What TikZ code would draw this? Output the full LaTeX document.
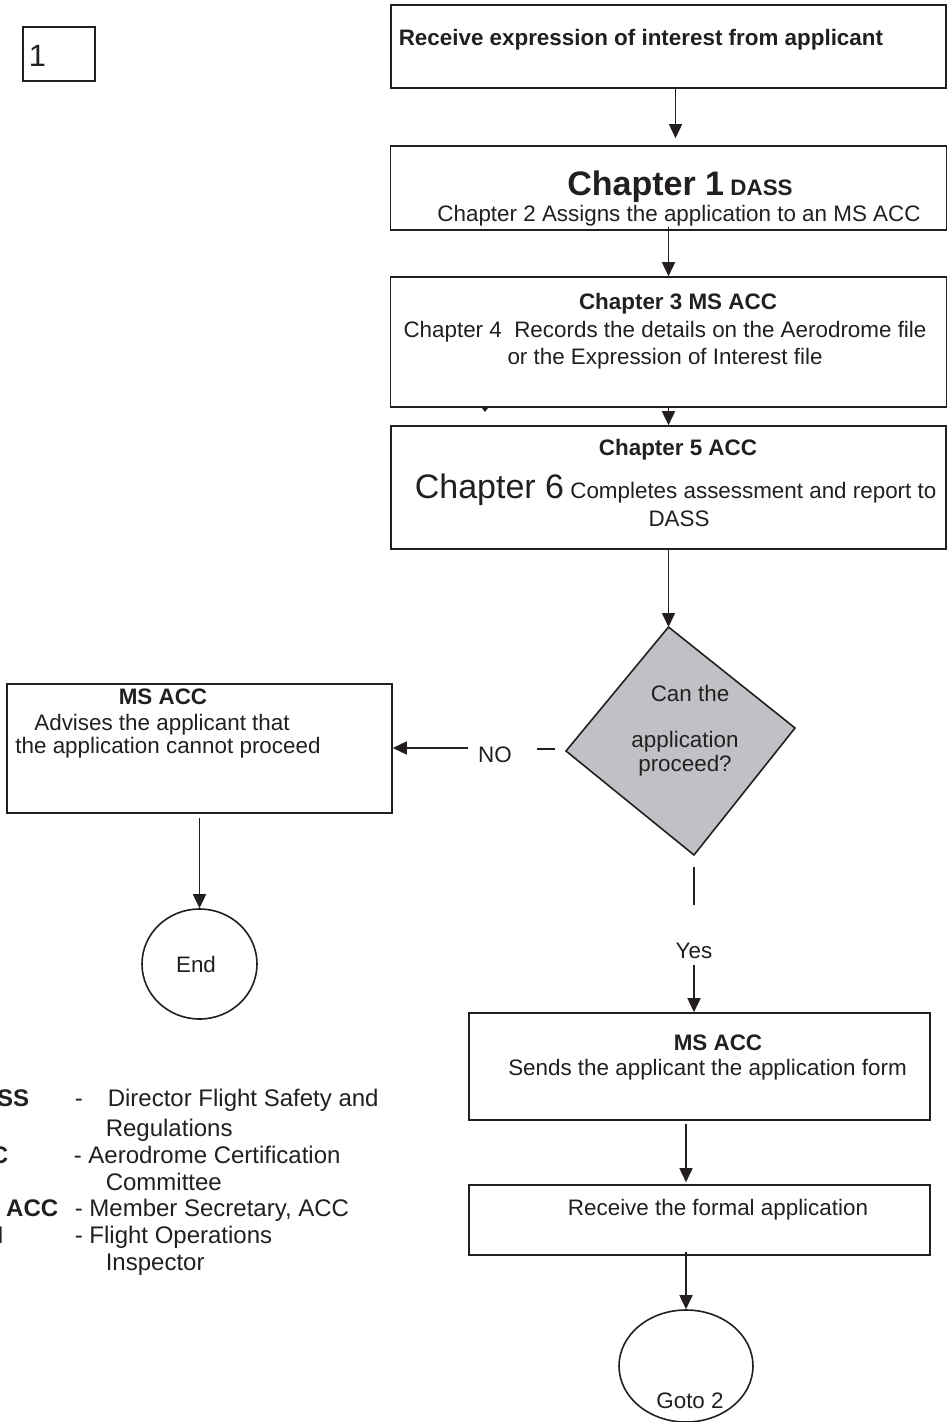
\documentclass[tikz,border=0pt]{standalone}
\usepackage{fontspec}
\setmainfont{Liberation Sans}
\usetikzlibrary{arrows.meta,calc,shapes.geometric}
\definecolor{ink}{RGB}{35,31,32}
\definecolor{diagray}{RGB}{192,193,197}

\begin{document}
\begin{tikzpicture}[x=0.5pt,y=-0.5pt,ink,line width=0.8pt,
  box/.style={draw,rectangle,inner sep=0pt},
  txt/.style={inner sep=0pt,anchor=base,font=\fontsize{11.2}{13.5}\selectfont},
  btxt/.style={txt,font=\fontsize{11.2}{13.5}\selectfont\bfseries},
  leg/.style={inner sep=0pt,anchor=base west,font=\fontsize{12}{14}\selectfont},
  arr/.style={-{Triangle[length=7pt,width=6.5pt]}}]
\useasboundingbox (0,0) rectangle (948,1422);
\clip (0,0) rectangle (948,1422);
\fill[white] (0,0) rectangle (948,1422);

\node[box,minimum width=36pt,minimum height=27pt] (one) at (59,54) {};
\node[txt,anchor=base west,font=\fontsize{15.4}{18}\selectfont] (onetxt) at (28,67) {1};

\node[box,minimum width=277.5pt,minimum height=41.5pt] (recv) at (668.5,46.5) {};
\node[btxt,anchor=base west] (recvtxt) at (398,46) {Receive expression of interest from applicant};

\node[box,minimum width=278pt,minimum height=42pt] (dass) at (668.5,188) {};
\node[txt] (ch1) at (680,196) {{\fontsize{17}{20}\selectfont\bfseries Chapter 1} {\bfseries DASS}};
\node[txt] (ch2) at (679,222) {Chapter 2 Assigns the application to an MS ACC};

\node[box,minimum width=278pt,minimum height=65pt] (record) at (668.5,342) {};
\node[btxt] (ch3) at (678,310) {Chapter 3 MS ACC};
\node[txt] (ch4) at (665,338) {Chapter 4\ \ Records the details on the Aerodrome file};
\node[txt] (ch4b) at (665,365) {or the Expression of Interest file};
\fill (482,408) -- (488,408) -- (485,412) -- cycle;

\node[box,minimum width=277.5pt,minimum height=61.5pt] (assess) at (668.5,487.5) {};
\node[btxt] (ch5) at (678,455) {Chapter 5 ACC};
\node[txt,anchor=base west] (ch6) at (414,498) {{\fontsize{17}{20}\selectfont Chapter 6} Completes assessment and report to};
\node[txt] (ch6b) at (679,526) {DASS};

\coordinate (dtop) at (668.5,627);
\coordinate (dright) at (795,728);
\coordinate (dbot) at (694,855);
\coordinate (dleft) at (566,751);
\filldraw[fill=diagray] (dtop) -- (dright) -- (dbot) -- (dleft) -- cycle;
\node[txt] (can) at (690,701) {Can the};
\node[txt] (app) at (685,747) {application};
\node[txt] (proc) at (685,771) {proceed?};

\node[box,minimum width=192.5pt,minimum height=64.5pt] (advise) at (199.5,748.5) {};
\node[btxt] (adv1) at (163,704) {MS ACC};
\node[txt] (adv2) at (162,730) {Advises the applicant that};
\node[txt] (adv3) at (168,753) {the application cannot proceed};
\node[draw,ellipse,inner sep=0pt,minimum width=57.5pt,minimum height=55pt] (endc) at (199.5,964) {};
\node[txt] (endtxt) at (196,972) {End};

\node[txt] (no) at (495,762) {NO};
\coordinate (nol) at (468,748);
\draw ($(dleft)+(-11,-2)$) -- ($(dleft)+(-29,-2)$);
\draw[arr] (nol) -- (nol -| advise.east);

\node[txt] (yes) at (694,958) {Yes};
\draw ($(dbot)+(0,12)$) -- ($(dbot)+(0,50)$);

\node[box,minimum width=230.5pt,minimum height=53.5pt] (sends) at (699.5,1066.5) {};
\node[btxt] (sends1) at (718,1050) {MS ACC};
\node[txt] (sends2) at (707.5,1075) {Sends the applicant the application form};
\node[box,minimum width=230.5pt,minimum height=35pt] (formal) at (699.5,1220) {};
\node[txt] (formaltxt) at (718,1215) {Receive the formal application};
\node[draw,ellipse,inner sep=0pt,minimum width=67pt,minimum height=56pt] (goto) at (686,1366) {};
\node[txt] (gototxt) at (690,1408) {Goto 2};

\draw[arr] ($(recv.south)+(7,0)$) -- ($(dass.north)+(7,-7)$);
\draw[arr] ($(dass.south)+(0,-4)$) -- (record.north);
\draw[arr] (record.south) -- (assess.north);
\draw[arr] (assess.south) -- (dtop);
\draw[arr] ($(advise.south)+(0,4)$) -- (endc.north);
\draw[arr] ($(yes)+(0,15)$) -- (yes |- sends.north);
\draw[arr] ($(sends.south)+(-13.5,3)$) -- ($(formal.north)+(-13.5,-2)$);
\draw[arr] ($(formal.south)+(-13.5,-4)$) -- (goto.north);

\node[leg,anchor=base east,font=\fontsize{12}{14}\selectfont\bfseries] (k1) at (30,1106) {DASS};
\node[leg] (k1d) at (74,1106) {-};
\node[leg] (k1t) at (107,1106) {Director Flight Safety and};
\node[leg] (k1u) at (105,1136) {Regulations};
\node[leg,anchor=base east,font=\fontsize{12}{14}\selectfont\bfseries] (k2) at (9,1163) {ACC};
\node[leg] (k2t) at (73,1163) {- Aerodrome Certification};
\node[leg] (k2u) at (105,1190) {Committee};
\node[leg,anchor=base east,font=\fontsize{12}{14}\selectfont\bfseries] (k3) at (59,1216) {MS ACC};
\node[leg] (k3t) at (74,1216) {- Member Secretary, ACC};
\node[leg,anchor=base east,font=\fontsize{12}{14}\selectfont\bfseries] (k4) at (4,1243) {FOI};
\node[leg] (k4t) at (74,1243) {- Flight Operations};
\node[leg] (k4u) at (105,1270) {Inspector};
\end{tikzpicture}
\end{document}
